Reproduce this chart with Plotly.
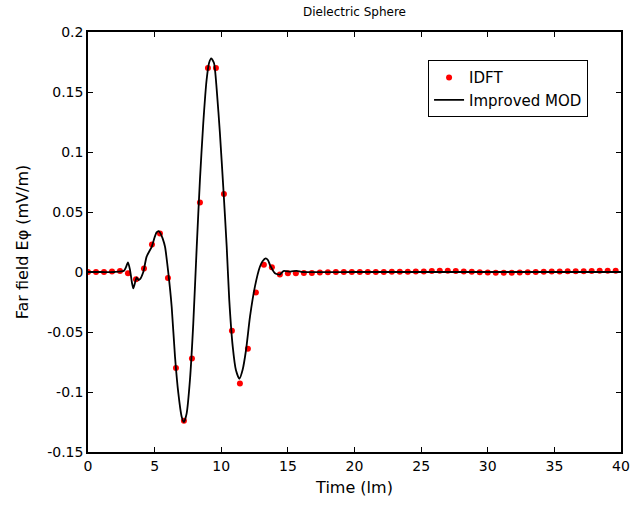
import plotly.graph_objects as go

# IDFT samples (time in lm, field in mV/m)
idft_t = [0, 0.6, 1.2, 1.8, 2.4, 3.0, 3.6, 4.2, 4.8, 5.4, 6.0, 6.6, 7.2, 7.8, 8.4,
          9.0, 9.6, 10.2, 10.8, 11.4, 12.0, 12.6, 13.2, 13.8, 14.4, 15.0, 15.6,
          16.2, 16.8, 17.4, 18.0, 18.6, 19.2, 19.8, 20.4, 21.0, 21.6, 22.2, 22.8,
          23.4, 24.0, 24.6, 25.2, 25.8, 26.4, 27.0, 27.6, 28.2, 28.8, 29.4, 30.0,
          30.6, 31.2, 31.8, 32.4, 33.0, 33.6, 34.2, 34.8, 35.4, 36.0, 36.6, 37.2,
          37.8, 38.4, 39.0, 39.6]
idft_v = [0, 0, 0, 0.0005, 0.0008, -0.001, -0.006, 0.003, 0.023, 0.032,
          -0.005, -0.080, -0.124, -0.072, 0.058, 0.170, 0.170, 0.065, -0.049, -0.093,
          -0.064, -0.017, 0.006, 0.004, -0.002,
          -0.001, -0.001, -0.0008, -0.0008, -0.0005, -0.0003, 0, 0, 0, 0,
          0, 0, 0, 0.0002, 0.0003, 0.0003, 0.0005, 0.0005, 0.0008, 0.001,
          0.001, 0.0008, 0.0005, 0.0002, -0.0003, -0.0005, -0.0006, -0.0006, -0.0006, -0.0005,
          -0.0003, 0, 0.0002, 0.0004, 0.0005, 0.0006, 0.0006, 0.0007, 0.0008, 0.001,
          0.001, 0.001]

# Improved MOD solution
mod_t = [0, 1, 2, 2.7, 2.85, 3.0, 3.15, 3.3, 3.4, 3.55, 3.65, 3.8, 3.9, 4.15, 4.4,
         4.78, 5.0, 5.15, 5.3, 5.45, 5.6, 5.78, 6.03, 6.28, 6.53, 6.78, 7.03, 7.2,
         7.4, 7.65, 7.9, 8.16, 8.4, 8.65, 8.9, 9.08, 9.25, 9.46, 9.66, 9.9, 10.15,
         10.41, 10.6, 10.86, 11.1, 11.36, 11.6, 11.86, 12.16, 12.53, 12.9, 13.1,
         13.33, 13.5, 13.66, 14.03, 14.4, 14.66, 15.2, 15.66, 16.1, 20, 25, 30, 35, 40]
mod_v = [0, 0, 0, 0.001, 0.004, 0.008, 0.002, -0.009, -0.0136, -0.008, -0.0045,
         -0.0067, -0.006, 0.000, 0.0128, 0.021, 0.029, 0.033, 0.034, 0.032, 0.028,
         0.021, -0.001, -0.029, -0.0706, -0.101, -0.1206, -0.125, -0.118, -0.090,
         -0.043, 0.021, 0.0767, 0.124, 0.160, 0.174, 0.178, 0.174, 0.152, 0.1156,
         0.071, 0.021, -0.023, -0.062, -0.0817, -0.089, -0.0817, -0.065, -0.037,
         -0.012, 0.0044, 0.009, 0.0114, 0.010, 0.0058, -0.001, -0.0022, 0.0008,
         0.0003, 0.001, 0.0, 0.0, 0.0, 0.0, 0.0, 0.0]

x_ticks = [0, 5, 10, 15, 20, 25, 30, 35, 40]
y_ticks = [-0.15, -0.1, -0.05, 0, 0.05, 0.1, 0.15, 0.2]
y_tick_text = ["-0.15", "-0.1", "-0.05", "0", "0.05", "0.1", "0.15", "0.2"]

FONT = "DejaVu Sans"

fig = go.Figure()
fig.add_trace(go.Scatter(x=idft_t, y=idft_v, mode="markers", name="IDFT",
                         marker=dict(color="red", size=6, line=dict(width=0))))
fig.add_trace(go.Scatter(x=mod_t, y=mod_v, mode="lines", name="Improved MOD",
                         line=dict(color="black", width=1.8, shape="spline", smoothing=0.6)))

axis_common = dict(showline=True, linecolor="black", linewidth=1.5, mirror="ticks",
                   ticks="inside", ticklen=5, tickwidth=1, tickcolor="black",
                   showgrid=False, zeroline=False, automargin=False,
                   tickfont=dict(family=FONT, size=14, color="black"))

fig.update_xaxes(range=[0, 40], tickvals=x_ticks, ticktext=[str(v) for v in x_ticks],
                 title=dict(text="Time (lm)", font=dict(family=FONT, size=16, color="black"),
                            standoff=9),
                 **axis_common)
fig.update_yaxes(range=[-0.15, 0.2], tickvals=y_ticks, ticktext=y_tick_text,
                 title=dict(text="Far field Eφ (mV/m)", font=dict(family=FONT, size=16, color="black"),
                            standoff=15),
                 **axis_common)

fig.update_layout(
    width=633, height=506,
    margin=dict(l=88, r=12, t=32, b=54),
    paper_bgcolor="white", plot_bgcolor="white",
    title=dict(text="Dielectric Sphere", x=(88 + 621) / 2 / 633, xanchor="center",
               y=1 - 12 / 506, yanchor="middle",
               font=dict(family=FONT, size=12, color="black")),
    legend=dict(x=0.638, y=0.933, xanchor="left", yanchor="top",
                bgcolor="white", bordercolor="black", borderwidth=1,
                font=dict(family=FONT, size=15, color="black"),
                tracegroupgap=0, itemwidth=30),
    showlegend=True,
)

fig.write_html("out.html")
